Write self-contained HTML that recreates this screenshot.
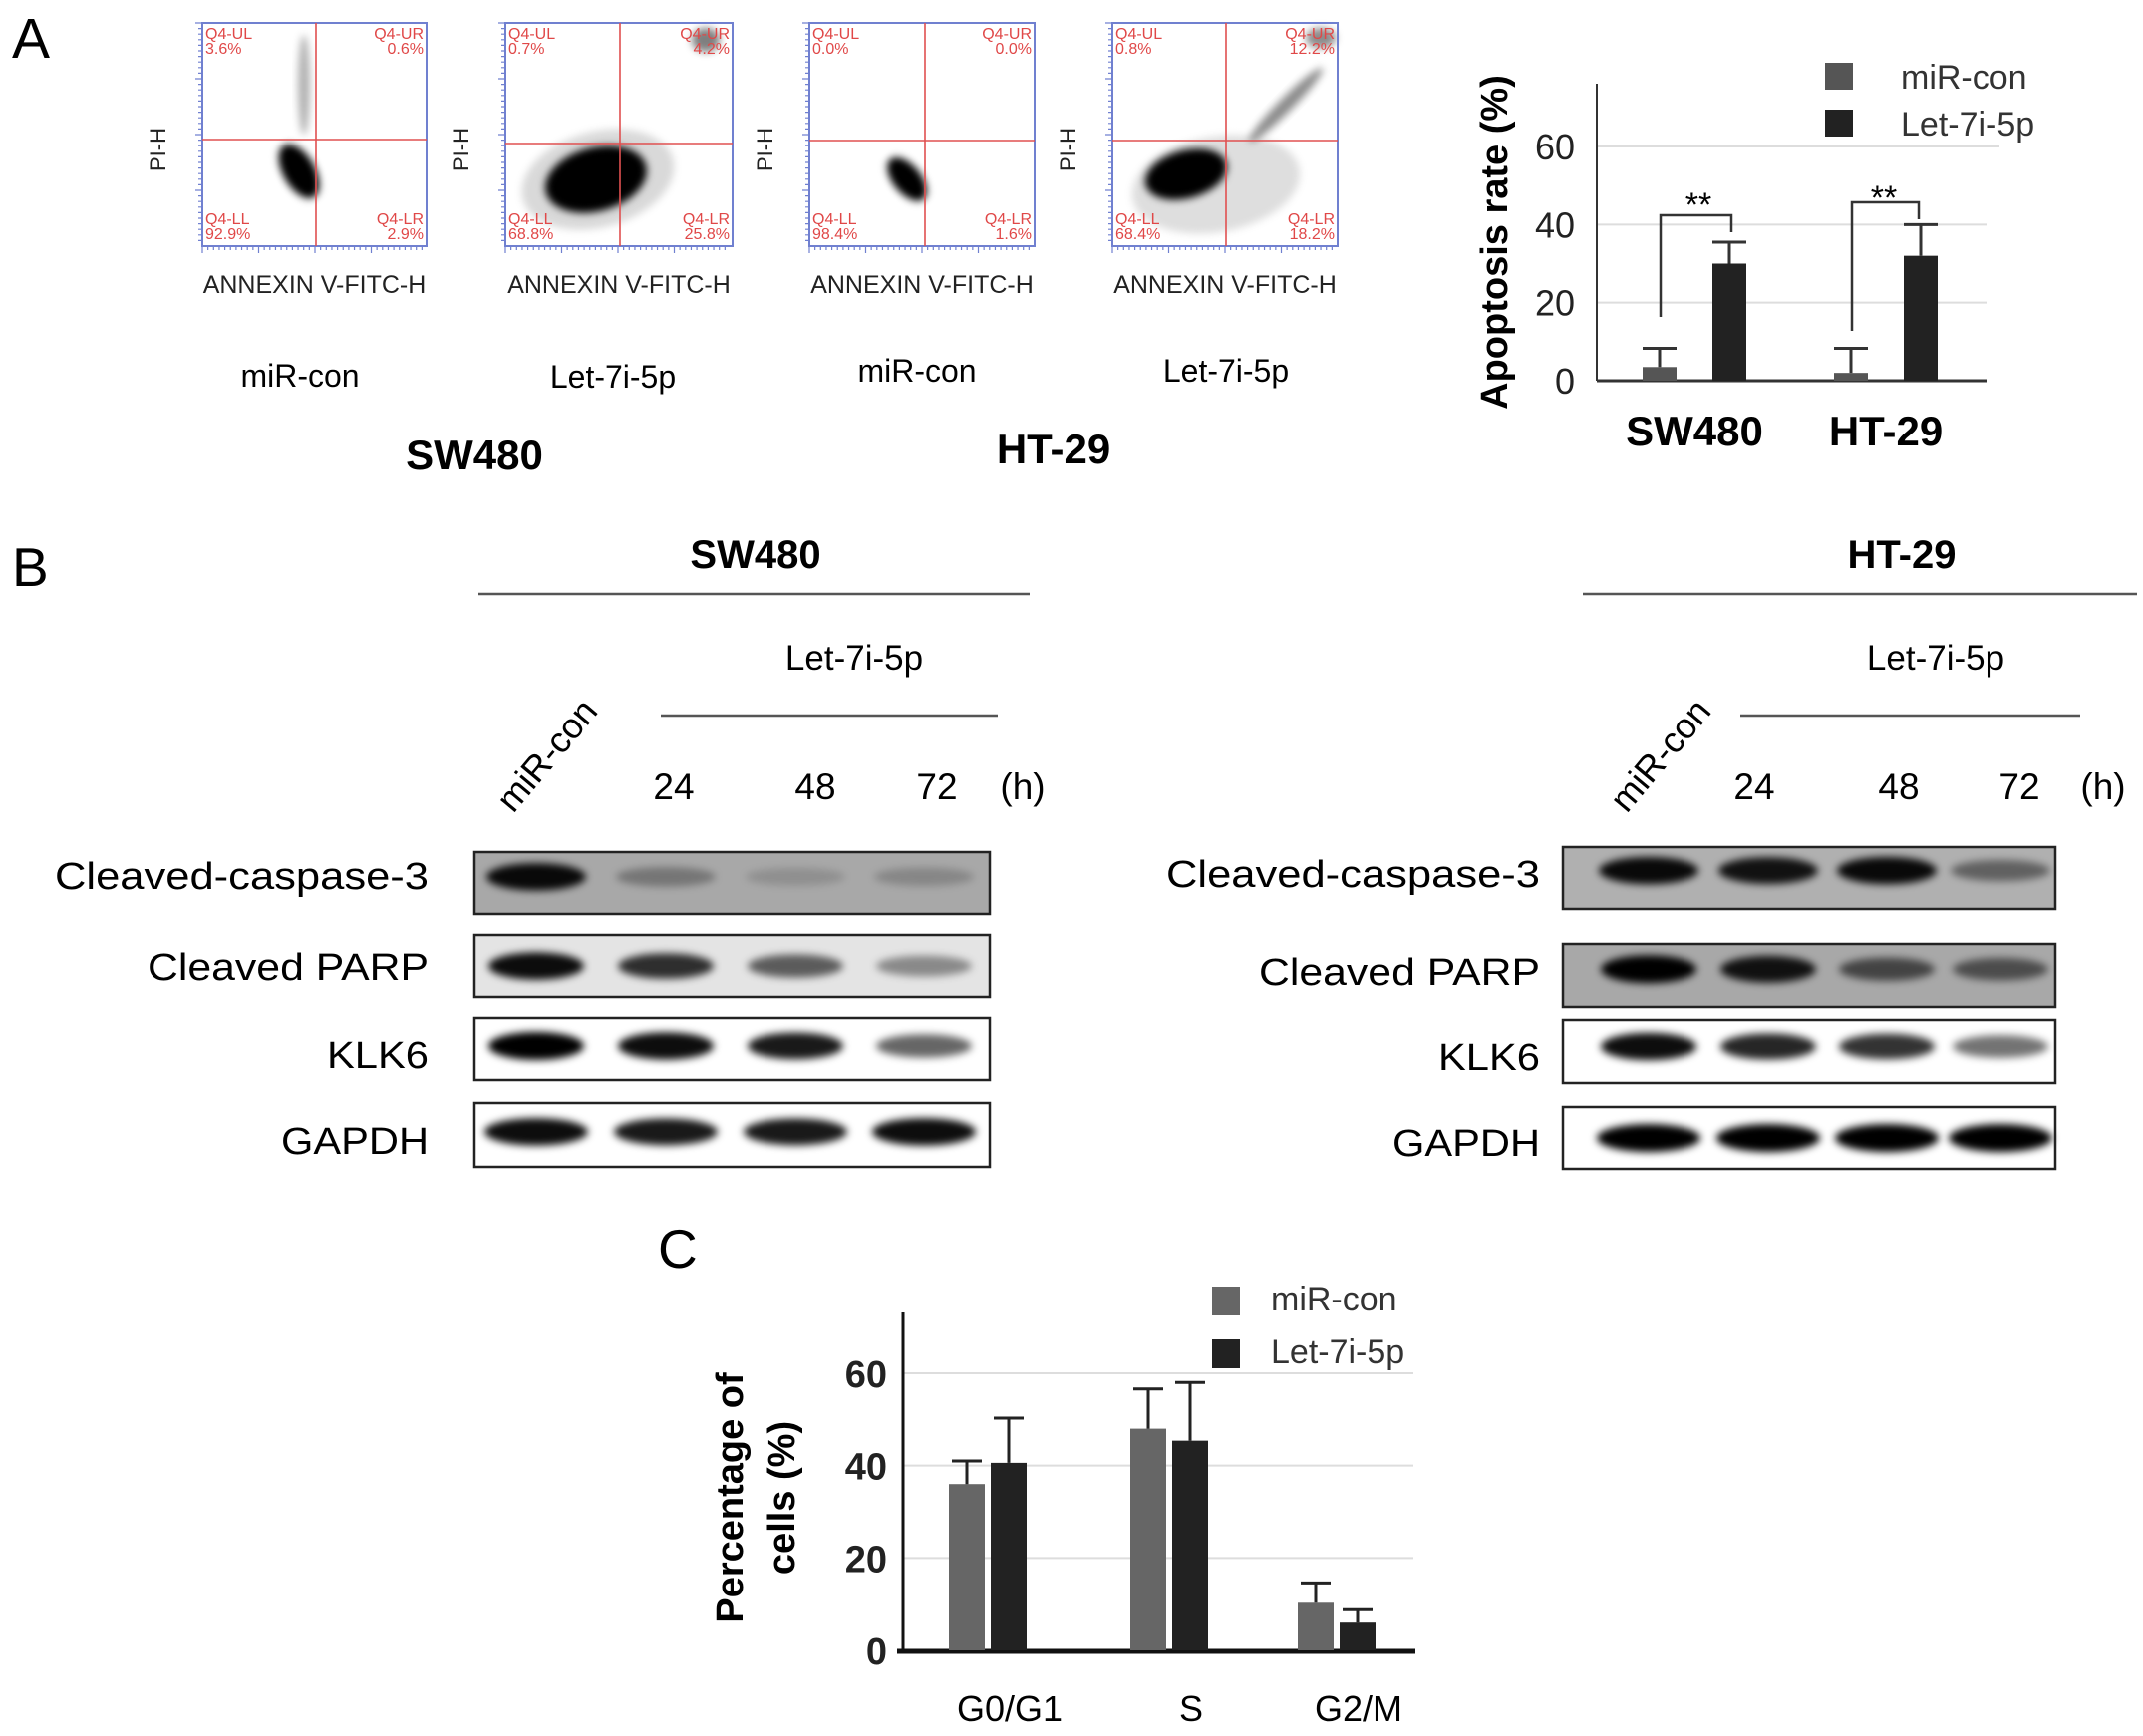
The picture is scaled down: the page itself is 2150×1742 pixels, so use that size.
<!DOCTYPE html>
<html><head><meta charset="utf-8"><style>
html,body{margin:0;padding:0;background:#fff}
svg{display:block;font-family:"Liberation Sans",Arial,sans-serif}
</style></head><body>
<svg id="fig" xmlns="http://www.w3.org/2000/svg" width="2150" height="1742" viewBox="0 0 2150 1742">
<defs>
<filter id="blur3" x="-50%" y="-50%" width="200%" height="200%"><feGaussianBlur stdDeviation="4"/></filter>
<filter id="blur6" x="-50%" y="-50%" width="200%" height="200%"><feGaussianBlur stdDeviation="7"/></filter>
</defs>
<rect width="2150" height="1742" fill="#fff"/>
<text x="12" y="58" font-size="57">A</text>
<text x="12" y="588" font-size="55">B</text>
<text x="660" y="1272" font-size="55">C</text>
<g id="flow"></g>
<g font-size="32" text-anchor="middle">
<text x="301" y="388">miR-con</text>
<text x="615" y="389">Let-7i-5p</text>
<text x="920" y="383">miR-con</text>
<text x="1230" y="383">Let-7i-5p</text>
<text x="476" y="471" font-size="42" font-weight="bold">SW480</text>
<text x="1057" y="465" font-size="42" font-weight="bold">HT-29</text>
</g>
<g id="chartA"></g>
<g id="blots"></g>
<g id="chartC"></g>
</svg>
<script>
const NS='http://www.w3.org/2000/svg';
function mk(tag,attrs,parent,txt){const e=document.createElementNS(NS,tag);for(const k in attrs)e.setAttribute(k,attrs[k]);if(txt!==undefined)e.textContent=txt;parent.appendChild(e);return e;}

/* ---------- Chart A data ---------- */
const aCategories=['SW480','HT-29'];
const aMirCon=[3.5,2];
const aMirConErr=[4.8,6.3];
const aLet7=[30,32];
const aLet7Err=[5.5,8];
const aTicks=[0,20,40,60];

/* ---------- Chart C data ---------- */
const cCategories=['G0/G1','S','G2/M'];
const cMirCon=[36,48,10.3];
const cMirConErr=[5,8.6,4.3];
const cLet7=[40.6,45.4,6];
const cLet7Err=[9.7,12.6,2.8];
const cTicks=[0,20,40,60];

/* ---------- Blot data (band intensities 0..1) ---------- */
const blotRows=['Cleaved-caspase-3','Cleaved PARP','KLK6','GAPDH'];
const swBands=[[0.95,0.3,0.15,0.2],[0.95,0.8,0.6,0.4],[1,0.95,0.9,0.6],[0.95,0.9,0.9,0.95]];
const htBands=[[0.95,0.9,0.95,0.45],[1,0.9,0.6,0.55],[0.95,0.85,0.8,0.55],[1,1,1,1]];

/* ---------- Chart A ---------- */
(function(){
const g=document.getElementById('chartA');
const x0=1602,base=382,top=84,ppu=(382-147)/60;
const y=v=>base-v*ppu;
aTicks.forEach(t=>{
  if(t>0){const l=mk('line',{x1:x0,x2:t===60?2006:1993,y1:y(t),y2:y(t),stroke:'#ddd','stroke-width':2},g);
  }
  const tx=mk('text',{x:1580,y:y(t)+13,'font-size':36,'text-anchor':'end',fill:'#222'},g,String(t));
  
});
const ax=mk('line',{x1:x0,x2:x0,y1:top,y2:base,stroke:'#333','stroke-width':2},g);

const bx=mk('line',{x1:x0,x2:1993,y1:base,y2:base,stroke:'#333','stroke-width':3},g);

const centers=[1700,1892];
const bw=34;
aCategories.forEach((c,i)=>{
  const cx=centers[i];
  const series=[[aMirCon,aMirConErr,'#555',-52],[aLet7,aLet7Err,'#222',18]];
  series.forEach((s,j)=>{
    const v=s[0][i],e=s[1][i],xl=cx+s[3];
    const r=mk('rect',{x:xl,y:y(v),width:bw,height:base-y(v),fill:s[2]},g);
    
    const el=mk('path',{d:`M${xl+bw/2},${y(v)}V${y(v+e)}M${xl+bw/2-17},${y(v+e)}H${xl+bw/2+17}`,stroke:'#333','stroke-width':3,fill:'none'},g);
    
  });
  const t=mk('text',{x:cx,y:447,'font-size':42,'font-weight':'bold','text-anchor':'middle'},g,c);
  
});
const br1=mk('path',{d:'M1666,318V216H1737V233',stroke:'#333','stroke-width':2.5,fill:'none'},g);

const br2=mk('path',{d:'M1858,332V203H1925V220',stroke:'#333','stroke-width':2.5,fill:'none'},g);

const s1=mk('text',{x:1704,y:217,'font-size':34,'text-anchor':'middle'},g,'**');

const s2=mk('text',{x:1890,y:210,'font-size':34,'text-anchor':'middle'},g,'**');

const yt=mk('text',{x:0,y:0,'font-size':38,'font-weight':'bold','text-anchor':'middle',transform:'translate(1512,243) rotate(-90)'},g,'Apoptosis rate (%)');

[['miR-con','#555',63],['Let-7i-5p','#222',110]].forEach((L,k)=>{
  const r=mk('rect',{x:1831,y:L[2],width:28,height:27,fill:L[1]},g);
  
  const t=mk('text',{x:1907,y:L[2]+26,'font-size':34,fill:'#333'},g,L[0]);
  
});
})();

/* ---------- Chart C ---------- */
(function(){
const g=document.getElementById('chartC');
const x0=906,base=1656,top=1317,ppu=(1656-1378)/60;
const y=v=>base-v*ppu;
cTicks.forEach(t=>{
  if(t>0){const l=mk('line',{x1:x0,x2:1418,y1:y(t),y2:y(t),stroke:'#ddd','stroke-width':2},g);
  }
  const tx=mk('text',{x:890,y:y(t)+14,'font-size':38,'font-weight':'bold','text-anchor':'end',fill:'#222'},g,String(t));
  
});
const ax=mk('line',{x1:x0,x2:x0,y1:top,y2:base+2,stroke:'#111','stroke-width':3},g);

const bx=mk('line',{x1:x0-6,x2:1420,y1:base+1,y2:base+1,stroke:'#111','stroke-width':5},g);

const centers=[991,1173,1341];
const bw=36;
cCategories.forEach((c,i)=>{
  const cx=centers[i];
  [[cMirCon,cMirConErr,'#666',-39],[cLet7,cLet7Err,'#222',3]].forEach((s,j)=>{
    const v=s[0][i],e=s[1][i],xl=cx+s[3];
    const r=mk('rect',{x:xl,y:y(v),width:bw,height:base-y(v),fill:s[2]},g);
    
    const el=mk('path',{d:`M${xl+bw/2},${y(v)}V${y(v+e)}M${xl+bw/2-15},${y(v+e)}H${xl+bw/2+15}`,stroke:'#222','stroke-width':3,fill:'none'},g);
    
  });
  const t=mk('text',{x:cx+22,y:1727,'font-size':36,'text-anchor':'middle'},g,c);
  
});
const t1=mk('text',{x:0,y:0,'font-size':38,'font-weight':'bold','text-anchor':'middle',transform:'translate(745,1503) rotate(-90)'},g,'Percentage of');

const t2=mk('text',{x:0,y:0,'font-size':38,'font-weight':'bold','text-anchor':'middle',transform:'translate(797,1503) rotate(-90)'},g,'cells (%)');

[['miR-con','#666',1291],['Let-7i-5p','#222',1344]].forEach(L=>{
  const r=mk('rect',{x:1216,y:L[2],width:28,height:29,fill:L[1]},g);
  
  const t=mk('text',{x:1275,y:L[2]+24,'font-size':34,fill:'#333'},g,L[0]);
  
});
})();

/* ---------- Flow plots ---------- */
(function(){
const g=document.getElementById('flow');
const plots=[
 {x1:203,x2:428,vx:317,hy:140,q:['3.6%','0.6%','92.9%','2.9%'],blobs:[[300,172,16,30,-30,1],[305,85,6,50,0,0.3]]},
 {x1:507,x2:735,vx:622,hy:144,q:['0.7%','4.2%','68.8%','25.8%'],blobs:[[598,180,52,32,-15,1],[600,180,78,48,-15,0.15],[708,40,14,12,0,0.5]]},
 {x1:812,x2:1038,vx:928,hy:141,q:['0.0%','0.0%','98.4%','1.6%'],blobs:[[910,180,14,26,-40,1]]},
 {x1:1116,x2:1342,vx:1230,hy:141,q:['0.8%','12.2%','68.4%','18.2%'],blobs:[[1190,175,42,24,-15,1],[1220,185,85,48,-10,0.13],[1290,105,52,7,-45,0.45],[1325,38,15,10,0,0.45]]}
];
const y1=23,y2=247;
plots.forEach((p,i)=>{
  const pg=mk('g',{},g);
  
  p.blobs.forEach(b=>{
    const e=mk('ellipse',{cx:b[0],cy:b[1],rx:b[2],ry:b[3],fill:'#000','fill-opacity':b[5],filter:'url(#blur3)',transform:`rotate(${b[4]} ${b[0]} ${b[1]})`},pg);
    
  });
  const box=mk('rect',{x:p.x1,y:y1,width:p.x2-p.x1,height:y2-y1,fill:'none',stroke:'#7080d0','stroke-width':2},pg);
  
  let ticks='';
  for(let k=0;k<40;k++){const yy=y1+k*5.6;ticks+=`M${p.x1},${yy}h${k%10===0?-7:-4}`;}
  for(let k=0;k<40;k++){const xx=p.x1+k*5.65;ticks+=`M${xx},${y2}v${k%10===0?7:4}`;}
  const tk=mk('path',{d:ticks,stroke:'#7080d0','stroke-width':1.2},pg);
  
  const q=mk('path',{d:`M${p.vx},${y1}V${y2}M${p.x1},${p.hy}H${p.x2}`,stroke:'#e05050','stroke-width':1.6},pg);
  
  const lab=[['Q4-UL',p.q[0],p.x1+3,y1+16,'start'],['Q4-UR',p.q[1],p.x2-3,y1+16,'end'],['Q4-LL',p.q[2],p.x1+3,y2-22,'start'],['Q4-LR',p.q[3],p.x2-3,y2-22,'end']];
  lab.forEach(L=>{
    const t=mk('text',{x:L[2],y:L[3],'font-size':16,fill:'#e04848','text-anchor':L[4]},pg);
    
    mk('tspan',{x:L[2],dy:0},t,L[0]);mk('tspan',{x:L[2],dy:15},t,L[1]);
  });
  const xt=mk('text',{x:(p.x1+p.x2)/2,y:294,'font-size':25,'text-anchor':'middle',fill:'#222'},pg,'ANNEXIN V-FITC-H');
  
  const yt=mk('text',{x:0,y:0,'font-size':22,'text-anchor':'middle',fill:'#222',transform:`translate(${p.x1-37},150) rotate(-90)`},pg,'PI-H');
  
});
})();

/* ---------- Western blots ---------- */
(function(){
const g=document.getElementById('blots');
const panels=[
 {name:'sw480',title:'SW480',tx:758,line:[480,1033],let:[663,1001],letx:857,nums:[676,818,940,1026],mir:[515,817],bx:[476,993],lanes:[538,668,798,927],lab:430,
  rows:[[855,917,'#a8a8a8'],[938,1000,'#e4e4e4'],[1022,1084,'#fff'],[1107,1171,'#fff']],bands:swBands,by:[0.4,0.5,0.45,0.45],bw:[50,48,48,52]},
 {name:'ht29',title:'HT-29',tx:1908,line:[1588,2144],let:[1746,2087],letx:1942,nums:[1760,1905,2026,2110],mir:[1632,817],bx:[1568,2062],lanes:[1654,1774,1893,2007],lab:1545,
  rows:[[850,912,'#b0b0b0'],[947,1010,'#a8a8a8'],[1024,1087,'#fff'],[1111,1173,'#fff']],bands:htBands,by:[0.38,0.4,0.42,0.5],bw:[50,48,48,52]}
];
const labBase=[[892,983,1072,1158],[890,988,1074,1160]];
const labLen=[375,282,102,148];
panels.forEach((P,pi)=>{
  const pg=mk('g',{},g);
  
  const t=mk('text',{x:P.tx,y:570,'font-size':40,'font-weight':'bold','text-anchor':'middle'},pg,P.title);
  
  const l1=mk('line',{x1:P.line[0],x2:P.line[1],y1:596,y2:596,stroke:'#555','stroke-width':2.5},pg);
  
  const lt=mk('text',{x:P.letx,y:672,'font-size':35,'text-anchor':'middle'},pg,'Let-7i-5p');
  
  const l2=mk('line',{x1:P.let[0],x2:P.let[1],y1:718,y2:718,stroke:'#555','stroke-width':2.5},pg);
  
  ['24','48','72','(h)'].forEach((n,k)=>{
    const tt=mk('text',{x:P.nums[k],y:802,'font-size':37,'text-anchor':'middle'},pg,n);
    
  });
  const mr=mk('text',{x:0,y:0,'font-size':36,transform:`translate(${P.mir[0]},${P.mir[1]}) rotate(-50)`},pg,'miR-con');
  
  P.rows.forEach((R,ri)=>{
    const h=R[1]-R[0],w=P.bx[1]-P.bx[0];
    const bg=mk('rect',{x:P.bx[0],y:R[0],width:w,height:h,fill:R[2]},pg);
    
    P.bands[ri].forEach((v,li)=>{
      const b=mk('ellipse',{cx:P.lanes[li],cy:R[0]+h*P.by[ri],rx:P.bw[ri],ry:8+6*v,fill:'#000','fill-opacity':Math.min(1,v),filter:'url(#blur3)'},pg);
      
    });
    const fr=mk('rect',{x:P.bx[0],y:R[0],width:w,height:h,fill:'none',stroke:'#222','stroke-width':2.5},pg);
    
    const lb=mk('text',{x:P.lab-labLen[ri],y:labBase[pi][ri],'font-size':38,textLength:labLen[ri],lengthAdjust:'spacingAndGlyphs'},pg,blotRows[ri]);
    
  });
});
})();
</script>
</body></html>
